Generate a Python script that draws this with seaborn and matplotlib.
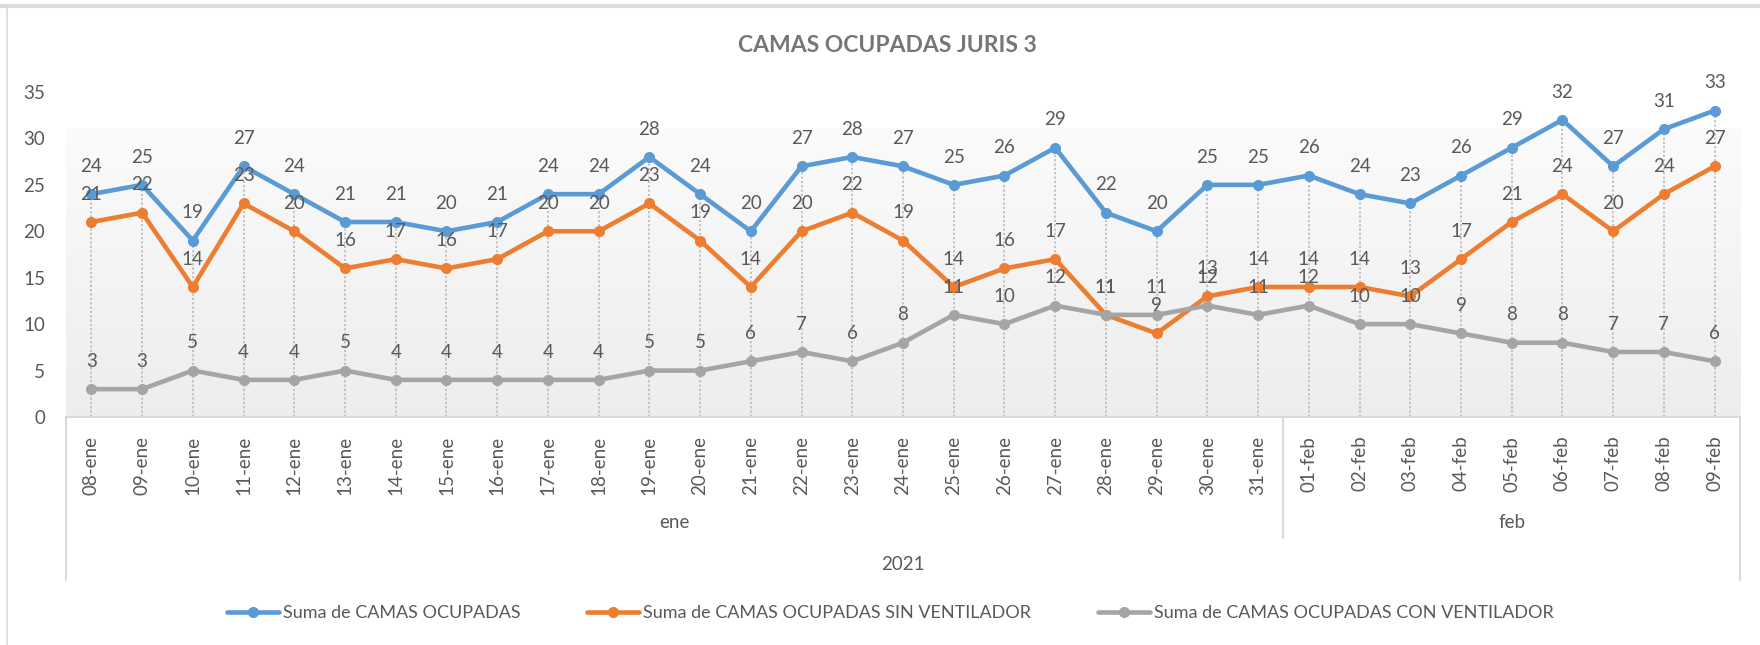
import numpy as np
import pandas as pd
import matplotlib
matplotlib.use("Agg")
import matplotlib.pyplot as plt
import matplotlib.transforms as mtransforms
from matplotlib.lines import Line2D
import seaborn as sns

# ---- data -------------------------------------------------------------
dates = ["08-ene", "09-ene", "10-ene", "11-ene", "12-ene", "13-ene", "14-ene",
         "15-ene", "16-ene", "17-ene", "18-ene", "19-ene", "20-ene", "21-ene",
         "22-ene", "23-ene", "24-ene", "25-ene", "26-ene", "27-ene", "28-ene",
         "29-ene", "30-ene", "31-ene", "01-feb", "02-feb", "03-feb", "04-feb",
         "05-feb", "06-feb", "07-feb", "08-feb", "09-feb"]
months = ["ene", "feb"]
month_counts = [24, 9]
year = "2021"

camas_ocupadas = [24, 25, 19, 27, 24, 21, 21, 20, 21, 24, 24, 28, 24, 20, 27, 28, 27,
                  25, 26, 29, 22, 20, 25, 25, 26, 24, 23, 26, 29, 32, 27, 31, 33]
camas_sin_ventilador = [21, 22, 14, 23, 20, 16, 17, 16, 17, 20, 20, 23, 19, 14, 20, 22, 19,
                        14, 16, 17, 11, 9, 13, 14, 14, 14, 13, 17, 21, 24, 20, 24, 27]
camas_con_ventilador = [3, 3, 5, 4, 4, 5, 4, 4, 4, 4, 4, 5, 5, 6, 7, 6, 8,
                        11, 10, 12, 11, 11, 12, 11, 12, 10, 10, 9, 8, 8, 7, 7, 6]

series_names = ["Suma de CAMAS OCUPADAS",
                "Suma de CAMAS OCUPADAS SIN VENTILADOR",
                "Suma de CAMAS OCUPADAS CON VENTILADOR"]
series_colors = ["#5B9BD5", "#ED7D31", "#A5A5A5"]
chart_title = "CAMAS OCUPADAS JURIS 3"
y_ticks = [0, 5, 10, 15, 20, 25, 30, 35]

# ---- style ------------------------------------------------------------
sns.set_theme(style="white")
plt.rcParams["font.family"] = ["Lato", "DejaVu Sans"]
TEXT = "#595959"
GRID = "#d9d9d9"
FS = 13.5

W, H = 1760, 645
fig = plt.figure(figsize=(W / 100, H / 100), dpi=100)
ax_top, ax_bottom, ax_left, ax_right = 92, 417, 66, 1740
ax_h = ax_bottom - ax_top
ax = fig.add_axes([ax_left / W, 1 - ax_bottom / H, (ax_right - ax_left) / W, ax_h / H])

x = np.arange(len(dates))
values = [camas_ocupadas, camas_sin_ventilador, camas_con_ventilador]

# plot-area gradient fill (light at the top, grey towards the bottom)
top_c = np.array(matplotlib.colors.to_rgb("#fbfbfb"))
bot_c = np.array(matplotlib.colors.to_rgb("#ededed"))
t = np.linspace(0, 1, 256).reshape(-1, 1, 1)
grad = top_c * (1 - t) + bot_c * t
fill_frac = (ax_bottom - 128) / ax_h
ax.imshow(grad, extent=(0, 1, 0, fill_frac), transform=ax.transAxes,
          aspect="auto", zorder=0, interpolation="bilinear")

# drop lines from the highest series down to the axis
ax.vlines(x, 0, np.max(values, axis=0), colors="#bdbdbd",
          linestyles=(0, (1.2, 1.2)), linewidth=1.3, zorder=1)

for name, vals, col in zip(series_names, values, series_colors):
    df = pd.DataFrame({"pos": x, "valor": vals})
    sns.lineplot(data=df, x="pos", y="valor", ax=ax, color=col, linewidth=3.3,
                 marker="o", markersize=8, markeredgewidth=0, sort=False,
                 label=name, zorder=3)
    for xi, v in zip(x, vals):
        ax.annotate(str(v), (xi, v), xytext=(0, 20), textcoords="offset points",
                    ha="center", va="center", fontsize=FS, color=TEXT, zorder=5)

ax.set_xlim(-0.5, len(dates) - 0.5)
ax.set_ylim(0, 35)
ax.set_yticks(y_ticks)
ax.set_yticklabels([str(v) for v in y_ticks])
ax.set_xticks(x)
ax.set_xticklabels(dates, rotation=90)
ax.tick_params(axis="y", length=0, pad=15, labelsize=FS, labelcolor=TEXT)
ax.tick_params(axis="x", length=0, pad=13.5, labelsize=FS, labelcolor=TEXT)
ax.set_xlabel("")
ax.set_ylabel("")
for side in ["top", "right", "left"]:
    ax.spines[side].set_visible(False)
ax.spines["bottom"].set_color(GRID)
ax.spines["bottom"].set_linewidth(1.5)

# multi-level category axis: month and year rows
trans = mtransforms.blended_transform_factory(ax.transData, ax.transAxes)
outer_depth = -163 / ax_h
month_depth = -121 / ax_h
edges = [-0.5, len(dates) - 0.5]
for e in edges:
    ax.plot([e, e], [0, outer_depth], transform=trans, color=GRID, lw=1.5, clip_on=False)
start = 0
for i, (m, n) in enumerate(zip(months, month_counts)):
    center = start + (n - 1) / 2
    ax.text(center, -106 / ax_h, m, transform=trans, ha="center", va="center",
            fontsize=FS, color=TEXT)
    if i < len(months) - 1:
        sep = start + n - 0.5
        ax.plot([sep, sep], [0, month_depth], transform=trans, color=GRID, lw=1.5,
                clip_on=False)
    start += n
ax.text((len(dates) - 1) / 2, -148 / ax_h, year, transform=trans, ha="center",
        va="center", fontsize=FS, color=TEXT)

# title
fig.text(887 / W, 1 - 45 / H, chart_title, ha="center", va="center",
         fontsize=16.5, fontweight="bold", color="#767676")

# legend
handles, labels = ax.get_legend_handles_labels()
if ax.get_legend() is not None:
    ax.get_legend().remove()
fig.legend(handles, labels, loc="center", bbox_to_anchor=(890 / W, 1 - 613 / H),
           ncol=3, frameon=False, fontsize=13, handlelength=2.9, handletextpad=0.2,
           columnspacing=3.7, labelcolor=TEXT)

# chart-area border (top and left edges)
fig.add_artist(Line2D([0, 1], [1 - 5.5 / H] * 2, transform=fig.transFigure,
                      color="#dcdcdc", lw=3))
fig.add_artist(Line2D([7 / W, 7 / W], [0, 1 - 7 / H], transform=fig.transFigure,
                      color=GRID, lw=1.2))

fig.savefig("out.png", dpi=100)
